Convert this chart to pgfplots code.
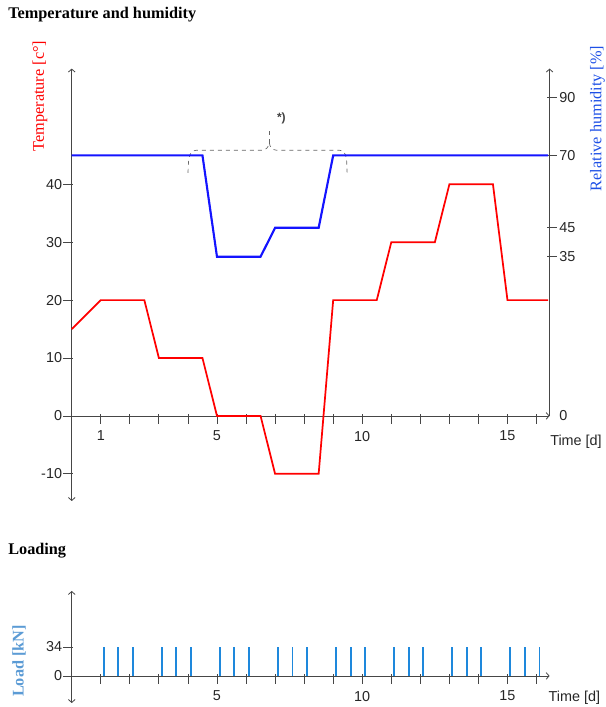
\documentclass[border=0pt]{standalone}
\usepackage{pgfplots}
\pgfplotsset{compat=1.18}
\usetikzlibrary{arrows.meta}
\usepackage{fontspec}
\setmainfont{Liberation Serif}
\newfontfamily\sansf{Liberation Sans}
\definecolor{tred}{RGB}{255,0,0}
\definecolor{hblue}{RGB}{20,20,255}
\definecolor{hlab}{RGB}{30,80,230}
\definecolor{loadlab}{RGB}{91,155,213}
\definecolor{spike}{RGB}{30,136,220}
\definecolor{axgray}{RGB}{70,70,70}
\tikzset{barb/.tip={Straight Barb[length=2.2pt,width=5pt,line width=0.6pt]}}
\pgfplotsset{
  base/.style={
    scale only axis, width=358.4pt,
    xmin=0, xmax=16.45,
    clip=false,
    tick label style={font=\sansf\fontsize{10.8}{12}\selectfont, text=black!85},
    /pgf/number format/assume math mode=true,
    axis line style={draw=axgray, line width=0.6pt},
    tick style={draw=axgray, line width=0.6pt},
    major tick length=7.5pt,
    xtick align=center,
    xtick style={yshift=-2pt},
    ytick align=center,
  }
}
\begin{document}
\begin{tikzpicture}
\useasboundingbox (0,0) rectangle (454.5pt,530.25pt);
% ---------------- temperature axis
\begin{axis}[base,
  at={(53.8pt,154.5pt)}, anchor=south west,
  height=324.3pt,
  ymin=-14.7, ymax=60,
  axis x line=middle, axis y line=left,
  x axis line style={-barb},
  y axis line style={barb-barb},
  xtick={1,...,16},
  xticklabels={1,,,,5,,,,,10,,,,,15,},
  ytick={-10,0,10,20,30,40},
  yticklabels={-10,0,10,20,30,40},
  ytick style={xshift=-2.8pt},
  hide obscured y ticks=false,
  xticklabel style={yshift=-4pt},
]
\addplot[tred, line width=1.3pt] coordinates {
 (0,15)(1,20)(2.5,20)(3,10)(4.5,10)(5,0)(6.5,0)(7,-10)(8.5,-10)
 (9,20)(10.5,20)(11,30)(12.5,30)(13,40)(14.5,40)(15,20)(16.4,20)};
\draw[dashed, draw=black!60, line width=0.5pt]
 (axis cs:4.0,42.0) to[out=85,in=180] (axis cs:4.3,45.9) -- (axis cs:6.55,45.9)
 to[out=0,in=-95] (axis cs:6.8,47.2) to[out=-85,in=180] (axis cs:7.05,45.9)
 -- (axis cs:9.2,45.9) to[out=0,in=95] (axis cs:9.48,42.0);
\draw[dashed, draw=black!60, line width=0.5pt] (axis cs:6.8,47.2) -- (axis cs:6.8,49.9);
\end{axis}
% ---------------- humidity axis
\begin{axis}[base,
  at={(53.8pt,154.5pt)}, anchor=south west,
  height=324.3pt,
  y coord trafo/.code={\pgfmathparse{(#1<35)*(#1*0.7857143)+(#1>=35)*(10+0.5*#1)}},
  y coord inv trafo/.code={\pgfmathparse{(#1<27.5)*(#1*1.272727)+(#1>=27.5)*((#1-10)*2)}},
  ymin=-18.71, ymax=100,
  axis x line=none, axis y line=right,
  y axis line style={draw=none},
  ytick={35,45,70,90},
  yticklabels={35,45,70,90},
  ytick style={xshift=1.5pt},
  extra y ticks={0}, extra y tick labels={0},
  extra y tick style={ytick style={draw=none}},
]
\draw[axgray, line width=0.6pt, -barb] (axis cs:16.45,0) -- (axis cs:16.45,100);
\addplot[hblue, line width=1.6pt] coordinates {
 (0,70)(4.5,70)(5,35)(6.5,35)(7,45)(8.5,45)(9,70)(16.4,70)};
\end{axis}
% ---------------- loading axis
\begin{axis}[base,
  at={(53.8pt,3pt)}, anchor=south west,
  height=84pt,
  ymin=-31.7, ymax=99.6,
  axis x line=middle, axis y line=left,
  x axis line style={-barb},
  y axis line style={barb-barb},
  xtick={1,...,16},
  xticklabels={,,,,5,,,,,10,,,,,15,},
  ytick={0,34},
  yticklabels={0,34},
  ytick style={xshift=-2.8pt},
  hide obscured y ticks=false,
  xticklabel style={yshift=-4pt},
]
\addplot[ycomb, spike, line width=1.4pt, mark=none] coordinates {
 (1.1,34)(1.6,34)(2.1,34)
 (3.1,34)(3.6,34)(4.1,34)
 (5.1,34)(5.6,34)(6.1,34)
 (7.1,34)(7.6,34)(8.1,34)
 (9.1,34)(9.6,34)(10.1,34)
 (11.1,34)(11.6,34)(12.1,34)
 (13.1,34)(13.6,34)(14.1,34)
 (15.1,34)(15.6,34)(16.1,34)};
\end{axis}
% ---------------- texts
\node[anchor=base west, inner sep=0, font=\bfseries\fontsize{12.2}{14}\selectfont] at (6pt,516.4pt) {Temperature and humidity};
\node[anchor=base west, inner sep=0, font=\bfseries\fontsize{12.2}{14}\selectfont] at (6pt,114pt) {Loading};
\node[rotate=90, inner sep=0, text=tred, font=\fontsize{12.2}{14}\selectfont] at (30pt,458.2pt) {Temperature [c°]};
\node[rotate=90, inner sep=0, text=hlab, font=\fontsize{12.2}{14}\selectfont] at (448.1pt,441.4pt) {Relative humidity [\%]};
\node[rotate=90, inner sep=0, text=loadlab, font=\bfseries\fontsize{12.2}{14}\selectfont] at (14.25pt,34.5pt) {Load [kN]};
\node[anchor=west, inner sep=0, font=\sansf\fontsize{10.8}{12}\selectfont, text=black!85] at (412.5pt,199pt) {Time [d]};
\node[anchor=west, inner sep=0, font=\sansf\fontsize{10.8}{12}\selectfont, text=black!85] at (411.3pt,6.8pt) {Time [d]};
\node[inner sep=0, font=\sansf\bfseries\fontsize{9}{10}\selectfont, text=black!75] at (211pt,441.5pt) {*)};
\end{tikzpicture}
\end{document}
